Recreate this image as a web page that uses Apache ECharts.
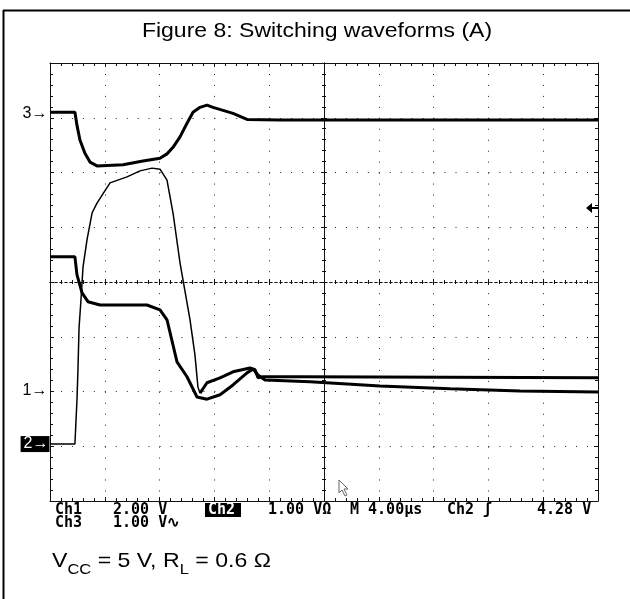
<!DOCTYPE html>
<html>
<head>
<meta charset="utf-8">
<script src="https://cdn.jsdelivr.net/npm/echarts@6/dist/echarts.min.js"></script>
<style>html,body{margin:0;padding:0;background:#fff;}#c{width:630px;height:599px;}</style>
</head>
<body>
<div id="c"></div>
<script>
// Time axis in microseconds (4 us/div, trigger at centre), vertical in screen divisions
const timeTicks = [-20,-16,-12,-8,-4,0,4,8,12,16,20];
const divTicks = [-4,-3,-2,-1,0,1,2,3,4];

const ch3Time = [-20,-18.18,-18.03,-17.81,-17.45,-17.08,-16.57,-14.67,-13.21,-11.97,-11.46,-11.02,-10.51,-10.00,-9.56,-9.05,-8.54,-8.10,-6.64,-5.62,-3.21,20];
const ch3Div  = [3.10,3.10,2.86,2.59,2.35,2.19,2.12,2.14,2.21,2.26,2.34,2.46,2.65,2.90,3.10,3.19,3.23,3.19,3.08,2.97,2.96,2.96];

const ch2Time = [-20,-18.18,-18.10,-18.03,-17.96,-17.88,-17.74,-17.59,-17.30,-16.93,-16.57,-15.62,-14.38,-13.43,-12.55,-11.97,-11.46,-11.02,-10.51,-9.78,-9.42,-9.20,-9.05,-8.54,-7.59,-6.64,-5.40,-5.04,-4.82,-4.45,-1.75,20];
const ch2Div  = [-2.96,-2.96,-2.52,-2.15,-1.61,-0.84,-0.33,0.27,0.77,1.26,1.44,1.81,1.92,2.03,2.08,2.06,1.86,1.26,0.35,-0.69,-1.33,-1.92,-2.03,-1.84,-1.75,-1.64,-1.57,-1.60,-1.75,-1.73,-1.73,-1.75];
const ch2SettleIndex = 22; // the trace is drawn heavier after the undershoot

const ch1Time = [-20,-18.18,-18.03,-17.66,-17.23,-16.35,-12.92,-11.97,-11.46,-10.73,-10.00,-9.27,-8.54,-7.59,-6.64,-5.62,-5.18,-4.82,-4.31,-1.02,4.09,9.20,14.31,20];
const ch1Div  = [0.46,0.46,0.13,-0.20,-0.36,-0.42,-0.42,-0.51,-0.69,-1.46,-1.73,-2.10,-2.14,-2.06,-1.88,-1.66,-1.59,-1.70,-1.79,-1.82,-1.90,-1.95,-1.99,-2.01];

const groundNames = ['1','2','3'];
const groundLevels = [-1.99,-2.96,3.08];
const triggerLevel = 1.35;

const titleText = 'Figure 8: Switching waveforms (A)';
const readoutRow1 = [['Ch1',55],['2.00 V',113],['1.00 VΩ',268],['M 4.00µs',350],['Ch2 ʃ',447],['4.28 V',537]];
const readoutRow2 = [['Ch3',55],['1.00 V∿',113]];

function pairs(t, v){ return t.map((x,i)=>[x, v[i]]); }

const chart = echarts.init(document.getElementById('c'), null, {renderer:'canvas'});
const GRID = {left:50, top:63, width:548, height:438};
const monoFont = {fontFamily:'"DejaVu Sans Mono"', fontWeight:'bold', fontSize:15, fill:'#000'};

function edgeAxis(dim, idx, pos, split){
  const ticks = dim==='x' ? timeTicks : divTicks;
  return {
    type:'value', gridIndex:idx, position:pos,
    min:ticks[0], max:ticks[ticks.length-1], interval:ticks[1]-ticks[0],
    axisLine:{show:true, onZero:false, lineStyle:{color:'#111', width:1}},
    axisTick:{show:true, inside:true, length:4, lineStyle:{color:'#111'}},
    minorTick:{show:true, splitNumber:5, length:3, lineStyle:{color:'#111'}},
    axisLabel:{show:false},
    splitLine:{show:split, lineStyle:{color:'#222', width:1, type:[1,9.96]}}
  };
}
function centerAxis(dim, pos, solid){
  const ticks = dim==='x' ? timeTicks : divTicks;
  return {
    type:'value', gridIndex:1, position:pos,
    min:ticks[0], max:ticks[ticks.length-1], interval:ticks[1]-ticks[0],
    axisLine:{show:true, onZero:true, lineStyle:{color:'#111', width:1, type: solid ? 'solid' : [2,3]}},
    axisTick:{show:true, inside:false, length:3, lineStyle:{color:'#111'}},
    minorTick:{show:true, splitNumber:5, length:2, lineStyle:{color:'#111'}},
    axisLabel:{show:false},
    splitLine:{show:false}
  };
}

function groundMark(name, level, inverted){
  return {
    coord:[timeTicks[0], level], symbol:'circle', symbolSize:1,
    itemStyle:{color:'rgba(0,0,0,0)'},
    label:{show:true, position:'left', distance: inverted ? 0 : 2, formatter:name+'→',
      fontFamily:'"Liberation Sans"', fontSize:16, color: inverted ? '#fff' : '#000',
      backgroundColor: inverted ? '#000' : 'transparent', padding: inverted ? [0,1,0,3] : 0}
  };
}

const option = {
  animation:false,
  backgroundColor:'#fff',
  grid:[Object.assign({}, GRID), Object.assign({}, GRID)],
  xAxis:[edgeAxis('x',0,'bottom',true), edgeAxis('x',0,'top',false), centerAxis('x','bottom',false), centerAxis('x','top',false)],
  yAxis:[edgeAxis('y',0,'left',true), edgeAxis('y',0,'right',false), centerAxis('y','left',true), centerAxis('y','right',true)],
  series:[
    {name:'Ch3', type:'line', xAxisIndex:0, yAxisIndex:0, data:pairs(ch3Time, ch3Div), showSymbol:false, symbol:'none',
      lineStyle:{color:'#000', width:3}, z:5,
      markPoint:{animation:false, data:[groundMark(groundNames[2], groundLevels[2], false)]}},
    {name:'Ch2', type:'line', xAxisIndex:0, yAxisIndex:0,
      data:pairs(ch2Time.slice(0, ch2SettleIndex+1), ch2Div.slice(0, ch2SettleIndex+1)), showSymbol:false, symbol:'none',
      lineStyle:{color:'#000', width:1.5}, z:5,
      markPoint:{animation:false, data:[
        groundMark(groundNames[1], groundLevels[1], true),
        {coord:[timeTicks[timeTicks.length-1], triggerLevel], symbol:'path://M0,5 L6,0 L6,10 Z M6,4 L12,4 L12,6 L6,6 Z',
          symbolSize:[12,10], symbolOffset:[-6,0], itemStyle:{color:'#000'}, label:{show:false}}
      ]}},
    {name:'Ch2 settled', type:'line', xAxisIndex:0, yAxisIndex:0,
      data:pairs(ch2Time.slice(ch2SettleIndex), ch2Div.slice(ch2SettleIndex)), showSymbol:false, symbol:'none',
      lineStyle:{color:'#000', width:3}, z:5},
    {name:'Ch1', type:'line', xAxisIndex:0, yAxisIndex:0, data:pairs(ch1Time, ch1Div), showSymbol:false, symbol:'none',
      lineStyle:{color:'#000', width:3}, z:5,
      markPoint:{animation:false, data:[groundMark(groundNames[0], groundLevels[0], false)]}}
  ],
  graphic:[
    {type:'line', shape:{x1:3.5, y1:10, x2:3.5, y2:599}, style:{stroke:'#000', lineWidth:2}},
    {type:'line', shape:{x1:3, y1:10.5, x2:630, y2:10.5}, style:{stroke:'#000', lineWidth:2}},
    {type:'text', x:317, y:31, scaleX:1.15, style:{text:titleText, textAlign:'center', textVerticalAlign:'middle',
      fontFamily:'"Liberation Sans", Arial', fontSize:20, fill:'#000'}},
    ...readoutRow1.map(([t,x])=>({type:'text', x:x, y:510, style:Object.assign({text:t, textVerticalAlign:'middle'}, monoFont)})),
    ...readoutRow2.map(([t,x])=>({type:'text', x:x, y:523, style:Object.assign({text:t, textVerticalAlign:'middle'}, monoFont)})),
    {type:'rect', shape:{x:205, y:503, width:36, height:14}, style:{fill:'#000'}},
    {type:'text', x:208, y:510, style:Object.assign({text:'Ch2', textVerticalAlign:'middle'}, monoFont, {fill:'#fff'})},
    {type:'polygon', shape:{points:[[339,480],[339,493],[342,490],[345,496],[347,495],[344,489],[348,489]]},
      style:{fill:'#fff', stroke:'#666', lineWidth:1}},
    {type:'text', x:52, y:562, scaleX:1.1, style:{
      text:'{a|V}{s|CC}{a| = 5 V, R}{s|L}{a| = 0.6 Ω}', textVerticalAlign:'middle',
      rich:{a:{fontFamily:'"Liberation Sans", Arial', fontSize:21, lineHeight:23, verticalAlign:'top'},
            s:{fontFamily:'"Liberation Sans", Arial', fontSize:15, lineHeight:15, padding:[12,0,0,0], verticalAlign:'top'}}}}
  ]
};
chart.setOption(option);
</script>
</body>
</html>
